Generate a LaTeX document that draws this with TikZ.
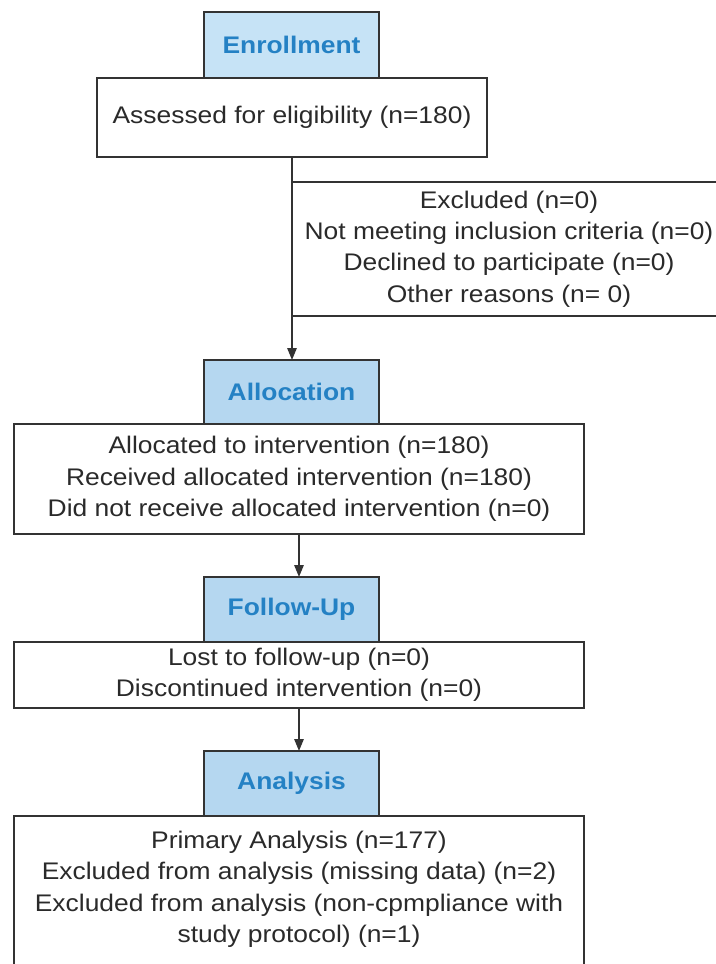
\documentclass[tikz,border=0pt]{standalone}
\usepackage{fontspec}
\setmainfont{Liberation Sans}[FakeStretch=1.1]
\usetikzlibrary{arrows.meta}
\definecolor{linecol}{HTML}{333333}
\definecolor{txtcol}{HTML}{2A2A2A}
\definecolor{hdrtxt}{HTML}{2481C4}
\definecolor{hdrfill}{HTML}{B5D7F0}
\definecolor{hdrfilltop}{HTML}{C6E3F6}
\begin{document}
\begin{tikzpicture}[x=0.75pt,y=-0.75pt,
  every node/.style={inner sep=0pt, outer sep=0pt},
  hdr/.style={draw=linecol, line width=1.4pt, fill=hdrfill, minimum width=131.25pt, minimum height=48.75pt, text=hdrtxt, font=\fontsize{18}{22}\selectfont\bfseries},
  cbox/.style={draw=linecol, line width=1.4pt, fill=white, align=center, text=txtcol, font=\fontsize{18}{23.6}\selectfont},
  ctext/.style={align=center, text=txtcol, font=\fontsize{18}{23.6}\selectfont},
  conn/.style={draw=linecol, line width=1.4pt, -{Triangle[length=9pt,width=7pt]}}]
\useasboundingbox (0,0) rectangle (716,964);
\fill[white] (0,0) rectangle (716,964);
\clip (0,0) rectangle (716,964);

% content boxes
\node[cbox, minimum width=292.5pt, minimum height=59.25pt] (assess) at (292,117.5) {Assessed for eligibility (n=180)};
\node[cbox, minimum width=325.5pt, minimum height=100.5pt] (excl) at (509,249) {Excluded (n=0)\\Not meeting inclusion criteria (n=0)\\Declined to participate (n=0)\\Other reasons (n= 0)};
\node[cbox, minimum width=427.5pt, minimum height=82.5pt] (allocbox) at (299,479) {Allocated to intervention (n=180)\\Received allocated intervention (n=180)\\Did not receive allocated intervention (n=0)};
\node[cbox, minimum width=427.5pt, minimum height=49.5pt] (lostbox) at (299,675) {Lost to follow-up (n=0)\\Discontinued intervention (n=0)};
\node[cbox, minimum width=427.5pt, minimum height=150pt, anchor=north] (finalbox) at (299,816) {};
\node[ctext] (finaltxt) at (299,889.5) {Primary Analysis (n=177)\\Excluded from analysis (missing data) (n=2)\\Excluded from analysis (non-cpmpliance with\\study protocol) (n=1)};

% header boxes
\node[hdr, fill=hdrfilltop, minimum height=49.5pt] (enroll) at (291.5,45) {Enrollment};
\node[hdr, minimum height=48pt] (alloc) at (291.5,392) {Allocation};
\node[hdr] (follow) at (291.5,609.5) {Follow-Up};
\node[hdr] (analysis) at (291.5,783.5) {Analysis};

% connectors
\draw[conn] (assess.south) -- (assess.south |- alloc.north);
\draw[conn] (allocbox.south) -- (allocbox.south |- follow.north);
\draw[conn] (lostbox.south) -- (lostbox.south |- analysis.north);
\end{tikzpicture}
\end{document}
